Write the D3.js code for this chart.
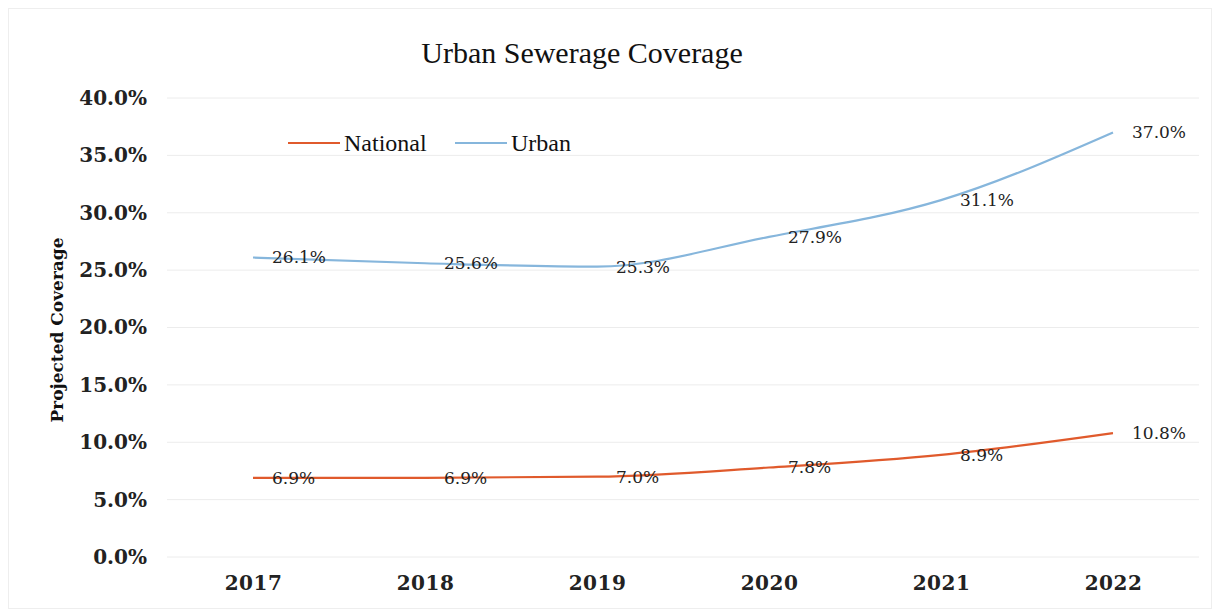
<!DOCTYPE html>
<html>
<head>
<meta charset="utf-8">
<script src="https://cdn.jsdelivr.net/npm/d3@7"></script>
<style>
  body { margin: 0; background: #fff; }
</style>
</head>
<body>
<svg width="1223" height="610"></svg>
<script>
const years = ['2017', '2018', '2019', '2020', '2021', '2022'];
const national = [6.9, 6.9, 7.0, 7.8, 8.9, 10.8];
const urban = [26.1, 25.6, 25.3, 27.9, 31.1, 37.0];
const yTicks = [0, 5, 10, 15, 20, 25, 30, 35, 40];

const svg = d3.select('svg');
const margin = { top: 98, right: 24, bottom: 53, left: 167 };
const width = 1223 - margin.left - margin.right;
const height = 610 - margin.top - margin.bottom;

// faint outer frame
svg.append('rect')
  .attr('x', 8.5).attr('y', 8.5)
  .attr('width', 1203).attr('height', 600)
  .attr('fill', 'none')
  .attr('stroke', '#eeeeee');

const g = svg.append('g')
  .attr('transform', `translate(${margin.left},${margin.top})`);

const x = d3.scalePoint()
  .domain(years)
  .range([0, width])
  .padding(0.5);

const y = d3.scaleLinear()
  .domain([0, 40])
  .range([height, 0]);

// gridlines
g.append('g')
  .selectAll('line')
  .data(yTicks)
  .join('line')
  .attr('x1', 0)
  .attr('x2', width)
  .attr('y1', d => y(d))
  .attr('y2', d => y(d))
  .attr('stroke', '#ececec')
  .attr('stroke-width', 1);

// y axis
const yAxis = g.append('g')
  .call(d3.axisLeft(y).tickValues(yTicks).tickSize(0).tickPadding(20)
    .tickFormat(d => d.toFixed(1) + '%'));
yAxis.select('.domain').remove();
yAxis.selectAll('text')
  .attr('font-family', 'DejaVu Serif')
  .attr('font-weight', 'bold')
  .attr('font-size', 20)
  .attr('fill', '#222');

// x axis
const xAxis = g.append('g')
  .attr('transform', `translate(0,${height})`)
  .call(d3.axisBottom(x).tickSize(0).tickPadding(19));
xAxis.select('.domain').remove();
xAxis.selectAll('text')
  .attr('font-family', 'DejaVu Serif')
  .attr('font-weight', 'bold')
  .attr('font-size', 20)
  .attr('letter-spacing', 0.5)
  .attr('fill', '#222');

const line = d3.line()
  .x((d, i) => x(years[i]))
  .y(d => y(d))
  .curve(d3.curveMonotoneX);

const series = [
  { name: 'National', values: national, color: '#e05a2c' },
  { name: 'Urban', values: urban, color: '#86b6dc' },
];

series.forEach((s) => {
  g.append('path')
    .datum(s.values)
    .attr('fill', 'none')
    .attr('stroke', s.color)
    .attr('stroke-width', 2.2)
    .attr('d', line);

  g.append('g')
    .selectAll('text')
    .data(s.values)
    .join('text')
    .attr('x', (d, i) => x(years[i]) + 19)
    .attr('y', d => y(d))
    .attr('dy', '0.35em')
    .attr('font-family', 'DejaVu Serif')
    .attr('font-size', 17)
    .attr('fill', '#222')
    .text(d => d.toFixed(1) + '%');
});

// title
svg.append('text')
  .attr('x', 582)
  .attr('y', 63)
  .attr('text-anchor', 'middle')
  .attr('font-family', 'Liberation Serif')
  .attr('font-size', 30)
  .attr('fill', '#111')
  .text('Urban Sewerage Coverage');

// y axis label
svg.append('text')
  .attr('transform', 'translate(63,330) rotate(-90)')
  .attr('text-anchor', 'middle')
  .attr('font-family', 'DejaVu Serif')
  .attr('font-weight', 'bold')
  .attr('font-size', 17)
  .attr('fill', '#111')
  .text('Projected Coverage');

// legend
const legend = svg.append('g')
  .attr('transform', 'translate(288,143)');
const legendX = [0, 167];
series.forEach((s, i) => {
  const lg = legend.append('g').attr('transform', `translate(${legendX[i]},0)`);
  lg.append('line')
    .attr('x1', 0).attr('x2', 52)
    .attr('y1', 0).attr('y2', 0)
    .attr('stroke', s.color)
    .attr('stroke-width', 2.2);
  lg.append('text')
    .attr('x', 56)
    .attr('y', 0)
    .attr('dy', '0.35em')
    .attr('font-family', 'Liberation Serif')
    .attr('font-size', 24)
    .attr('fill', '#111')
    .text(s.name);
});
</script>
</body>
</html>
